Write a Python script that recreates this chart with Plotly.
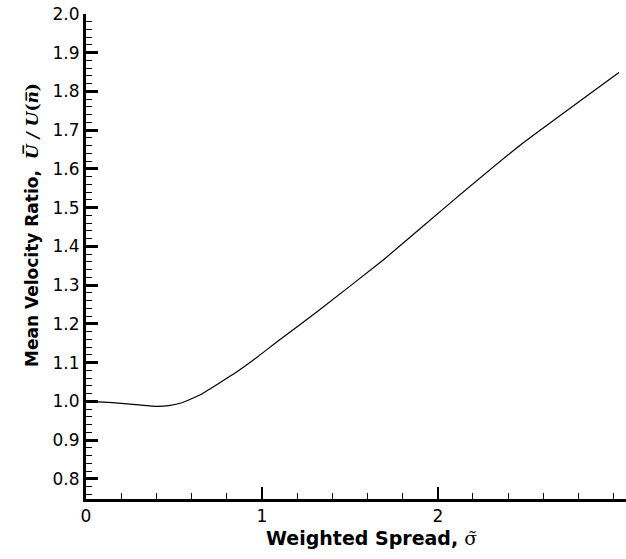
import plotly.graph_objects as go

# Mean velocity ratio versus weighted spread
sigma = [0.0, 0.1, 0.2, 0.3, 0.4, 0.47, 0.55, 0.65, 0.75, 0.85, 0.94, 1.09, 1.31, 1.69, 2.06, 2.47, 3.03]
ratio = [1.0, 0.998, 0.995, 0.991, 0.987, 0.989, 0.997, 1.017, 1.045, 1.074, 1.103, 1.155, 1.230, 1.365, 1.508, 1.662, 1.849]

x_tickvals = [0, 1, 2]
x_ticktext = ["0", "1", "2"]
y_tickvals = [0.8, 0.9, 1.0, 1.1, 1.2, 1.3, 1.4, 1.5, 1.6, 1.7, 1.8, 1.9, 2.0]
y_ticktext = ["0.8", "0.9", "1.0", "1.1", "1.2", "1.3", "1.4", "1.5", "1.6", "1.7", "1.8", "1.9", "2.0"]

fig = go.Figure()
fig.add_trace(go.Scatter(
    x=sigma, y=ratio, mode="lines",
    line=dict(color="black", width=1.2, shape="spline", smoothing=0.3),
    showlegend=False,
))

tick_font = dict(family="DejaVu Sans, Arial, sans-serif", size=17, color="black")

fig.update_xaxes(
    range=[0, 3.07], showgrid=False, zeroline=False,
    showline=True, linecolor="black", linewidth=3,
    ticks="inside", ticklen=12, tickwidth=2, tickcolor="black",
    tickvals=x_tickvals, ticktext=x_ticktext, tickfont=tick_font,
    minor=dict(dtick=0.2, ticks="inside", ticklen=6, tickwidth=1, tickcolor="black"),
)
fig.update_yaxes(
    range=[0.748, 2.0], showgrid=False, zeroline=False,
    showline=True, linecolor="black", linewidth=3,
    ticks="inside", ticklen=12, tickwidth=3, tickcolor="black",
    tickvals=y_tickvals, ticktext=y_ticktext, tickfont=tick_font,
    minor=dict(dtick=0.02, tick0=0.8, ticks="inside", ticklen=6, tickwidth=1, tickcolor="black"),
)

serif = "font-family:'DejaVu Serif',serif"
fig.add_annotation(
    xref="paper", yref="paper", x=0.528, y=-0.080,
    text="<b>Weighted Spread,</b> <span style=\"" + serif + "\">σ\u0303</span>",
    showarrow=False, xanchor="center", yanchor="middle",
    font=dict(family="DejaVu Sans, Arial, sans-serif", size=19, color="black"),
)
fig.add_annotation(
    xref="paper", yref="paper", x=-0.100, y=0.565,
    text="<b>Mean Velocity Ratio,</b>  <span style=\"" + serif + "\"><b><i>U\u0305 / U</i>(<i>n\u0305</i>)</b></span>",
    showarrow=False, xanchor="center", yanchor="middle", textangle=-90,
    font=dict(family="DejaVu Sans, Arial, sans-serif", size=17, color="black"),
)

fig.update_layout(
    width=626, height=559,
    margin=dict(l=86, r=0, t=14, b=60),
    plot_bgcolor="white", paper_bgcolor="white",
)

fig.write_html("out.html")
